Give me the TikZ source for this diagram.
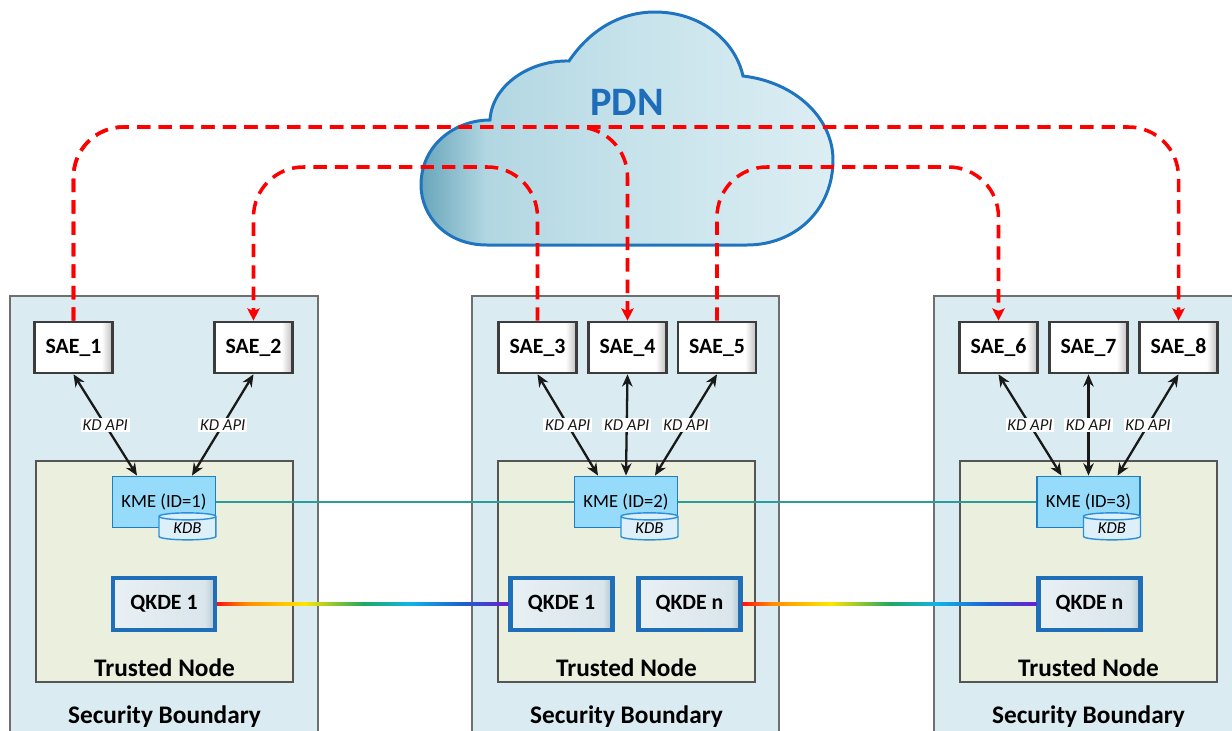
\documentclass[tikz,border=0pt]{standalone}
\usepackage{fontspec}
\setmainfont{Carlito}
\usepackage{tikz}
\usetikzlibrary{
  calc,                  % Anchor shifts: ($(A)+(0,5)$)
  arrows.meta,           % Stealth tips
  shapes.geometric       % Cylinder for the key database
}

% Colours
\definecolor{boundfill}{HTML}{DAEBF2}
\definecolor{boundline}{HTML}{6F6F6F}
\definecolor{trustfill}{HTML}{EBEFDD}
\definecolor{trustline}{HTML}{555555}
\definecolor{saeline}{HTML}{3C3C3C}
\definecolor{saeshade}{HTML}{BEBEBE}
\definecolor{kmefill}{HTML}{96DCFA}
\definecolor{kmeline}{HTML}{1E7DC8}
\definecolor{kdbfill}{HTML}{DDEFF8}
\definecolor{kdbline}{HTML}{2A8FDC}
\definecolor{qkdeline}{HTML}{1E6EB8}
\definecolor{qkdehi}{HTML}{E8F0F4}
\definecolor{qkdefill}{HTML}{DAE6EC}
\definecolor{qkdeshade}{HTML}{B4C6D0}
\definecolor{kmelink}{HTML}{2A9C9A}
\definecolor{cloudline}{HTML}{1E74BE}
\definecolor{clouddark}{HTML}{68A6BB}
\definecolor{cloudmid}{HTML}{B2D7E2}
\definecolor{cloudmid2}{HTML}{C8E3EB}
\definecolor{cloudlight}{HTML}{DCEEF4}
\definecolor{pdntext}{HTML}{1F6DB8}
\definecolor{rbred}{HTML}{FF1010}
\definecolor{rborange}{HTML}{FF8C00}
\definecolor{rbyellow}{HTML}{FFE600}
\definecolor{rbgreen}{HTML}{20A860}
\definecolor{rbcyan}{HTML}{10B4E8}
\definecolor{rbblue}{HTML}{1E5FD0}
\definecolor{rbviolet}{HTML}{6A1ED0}

% Shadings
\pgfdeclarehorizontalshading{saebevel}{100bp}{color(0bp)=(white); color(68bp)=(white); color(75bp)=(saeshade); color(100bp)=(saeshade)}
\pgfdeclarehorizontalshading{qkdebevel}{100bp}{color(0bp)=(qkdehi); color(25bp)=(qkdehi); color(70bp)=(qkdefill); color(75bp)=(qkdeshade); color(100bp)=(qkdeshade)}
\pgfdeclarehorizontalshading{cloudshade}{100bp}{color(0bp)=(clouddark); color(25bp)=(clouddark); color(33bp)=(cloudmid); color(52bp)=(cloudmid2); color(75bp)=(cloudlight); color(100bp)=(cloudlight)}
\pgfdeclarehorizontalshading{rainbow}{100bp}{color(0bp)=(rbred); color(25bp)=(rbred); color(30bp)=(rborange); color(40bp)=(rbyellow); color(50bp)=(rbgreen); color(58bp)=(rbcyan); color(67bp)=(rbblue); color(75bp)=(rbviolet); color(100bp)=(rbviolet)}

\begin{document}
\begin{tikzpicture}[x=0.02cm, y=-0.02cm,
    bound/.style={fill=boundfill, draw=boundline, line width=1.1pt},
    trusted/.style={fill=trustfill, draw=trustline, line width=1.1pt},
    boxtitle/.style={font=\fontsize{14.4}{16}\selectfont\bfseries},
    sae/.style={draw=saeline, line width=1.5pt, shading=saebevel, minimum width=1.56cm, minimum height=1.02cm, inner sep=0pt, font=\fontsize{12.4}{14}\selectfont\bfseries},
    kme/.style={draw=kmeline, fill=kmefill, line width=1.1pt, minimum width=2.06cm, minimum height=1.02cm, inner sep=0pt, font=\fontsize{10.6}{12}\selectfont},
    kdb/.style={cylinder, shape border rotate=90, aspect=0.25, draw=kdbline, fill=kdbfill, line width=0.8pt, minimum width=1.14cm, minimum height=0.54cm, inner sep=0pt, font=\fontsize{9.5}{10}\selectfont\itshape},
    qkde/.style={draw=qkdeline, line width=2.3pt, shading=qkdebevel, minimum width=2.04cm, minimum height=1.04cm, inner sep=0pt, font=\fontsize{12.4}{14}\selectfont\bfseries},
    api/.style={{Stealth[length=7pt,width=6pt]}-{Stealth[length=7pt,width=6pt]}, line width=1.3pt, black!90},
    apilabel/.style={fill=white, inner sep=1pt, font=\fontsize{9.5}{10}\selectfont\itshape},
    pdnlink/.style={-{Stealth[length=7pt,width=7pt,inset=1.5pt]}, red, line width=2pt, dash pattern=on 7.6pt off 4.6pt, rounded corners=1cm},
    qlink/.style={shading=rainbow},
  ]
  \clip (0,0) rectangle (1232,731);

  % Security boundaries
  \draw[bound] (10,296) rectangle (318,745);
  \draw[bound] (472,296) rectangle (779,745);
  \draw[bound] (934,296) rectangle (1240,745);

  % Trusted nodes
  \draw[trusted] (36,461) rectangle (293,682);
  \draw[trusted] (498,461) rectangle (755,682);
  \draw[trusted] (960,461) rectangle (1217,682);

  % Labels
  \node[boxtitle] (tn1) at (164.5,668) {Trusted Node};
  \node[boxtitle] (tn2) at (626.5,668) {Trusted Node};
  \node[boxtitle] (tn3) at (1088.5,668) {Trusted Node};
  \node[boxtitle] (sb1) at (164.5,717) {Security Boundary};
  \node[boxtitle] (sb2) at (626.5,717) {Security Boundary};
  \node[boxtitle] (sb3) at (1088.5,717) {Security Boundary};

  % Cloud
  \path[draw=cloudline, line width=1.7pt, shade, shading=cloudshade]
    (487,245) .. controls (445,245) and (421,215) .. (421,185)
    .. controls (421,145) and (455,120) .. (490,120)
    .. controls (492,85) and (530,60) .. (569,61)
    .. controls (590,30) and (620,12) .. (655,12)
    .. controls (700,12) and (735,40) .. (743,76)
    .. controls (795,82) and (833,118) .. (833,160)
    .. controls (833,210) and (795,245) .. (747,245) -- cycle;
  \node[font=\fontsize{23}{26}\selectfont\bfseries, text=pdntext] (pdn) at (627,102) {PDN};

  % SAEs
  \node[sae] (sae1) at (73.5,347.5) {SAE\_1};
  \node[sae] (sae2) at (253.5,347.5) {SAE\_2};
  \node[sae] (sae3) at (537.5,347.5) {SAE\_3};
  \node[sae] (sae4) at (627.5,347.5) {SAE\_4};
  \node[sae] (sae5) at (717,347.5) {SAE\_5};
  \node[sae] (sae6) at (998.5,347.5) {SAE\_6};
  \node[sae] (sae7) at (1088.5,347.5) {SAE\_7};
  \node[sae] (sae8) at (1178.5,347.5) {SAE\_8};

  % KMEs and key stores
  \node[kme] (kme1) at (164,502) {KME (ID=1)};
  \node[kme] (kme2) at (626,502) {KME (ID=2)};
  \node[kme] (kme3) at (1088.5,502) {KME (ID=3)};
  \node[kdb] (kdb1) at ($(kme1.south east)+(-29,0)$) {KDB};
  \node[kdb] (kdb2) at ($(kme2.south east)+(-29,0)$) {KDB};
  \node[kdb] (kdb3) at ($(kme3.south east)+(-29,0)$) {KDB};

  % QKDEs
  \node[qkde] (qa1) at (164,604) {QKDE 1};
  \node[qkde] (qb1) at (561.5,604) {QKDE 1};
  \node[qkde] (qbn) at (689.5,604) {QKDE n};
  \node[qkde] (qcn) at (1089.5,604) {QKDE n};

  % KD API links
  \draw[api] (sae1.south) -- ($(kme1.north)+(-27,0)$) node[apilabel, midway] (ka1) {KD API};
  \draw[api] (sae2.south) -- ($(kme1.north)+(28,0)$) node[apilabel, midway] (ka2) {KD API};
  \draw[api] (sae3.south) -- ($(kme2.north)+(-28,0)$) node[apilabel, midway] (ka3) {KD API};
  \draw[api] (sae4.south) -- (kme2.north) node[apilabel, midway] (ka4) {KD API};
  \draw[api] (sae5.south) -- ($(kme2.north)+(29,0)$) node[apilabel, midway] (ka5) {KD API};
  \draw[api] (sae6.south) -- ($(kme3.north)+(-27,0)$) node[apilabel, midway] (ka6) {KD API};
  \draw[api] (sae7.south) -- (kme3.north) node[apilabel, midway] (ka7) {KD API};
  \draw[api] (sae8.south) -- ($(kme3.north)+(29,0)$) node[apilabel, midway] (ka8) {KD API};

  % KME to KME
  \draw[kmelink, line width=1.1pt] (kme1) -- (kme2);
  \draw[kmelink, line width=1.1pt] (kme2) -- (kme3);

  % Quantum channels
  \shade[qlink] ($(qa1.east)+(0,-1.5)$) rectangle ($(qb1.west)+(0,1.5)$);
  \shade[qlink] ($(qbn.east)+(0,-1.5)$) rectangle ($(qcn.west)+(0,1.5)$);

  % Application traffic over the PDN
  \coordinate (hiA) at (0,127);
  \coordinate (hiB) at (0,167);
  \draw[pdnlink] (sae1.north) -- (sae1.north |- hiA) -| (sae8.north);
  \draw[pdnlink] (sae1.north) -- (sae1.north |- hiA) -| (sae4.north);
  \draw[pdnlink] (sae3.north) -- (sae3.north |- hiB) -| (sae2.north);
  \draw[pdnlink] (sae5.north) -- (sae5.north |- hiB) -| (sae6.north);
\end{tikzpicture}
\end{document}
